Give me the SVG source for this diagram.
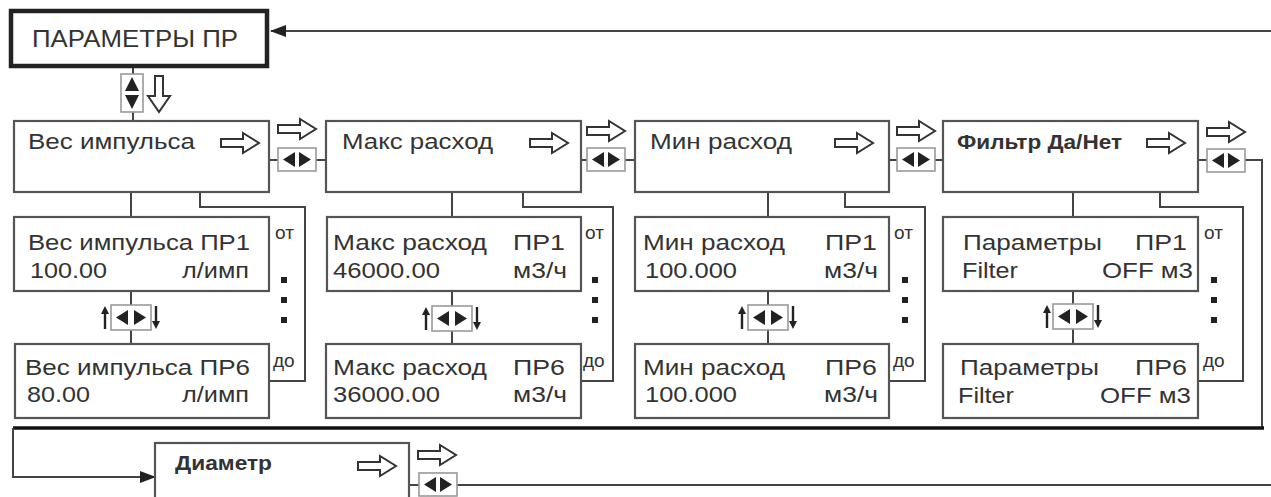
<svg xmlns="http://www.w3.org/2000/svg" xmlns:xlink="http://www.w3.org/1999/xlink" width="1271" height="497" viewBox="0 0 1271 497">
<style>
.box{fill:#fff;stroke:#555;stroke-width:2.2}
.hdr{fill:#fff;stroke:#222;stroke-width:4.5}
.t{font-family:"Liberation Sans",Arial,sans-serif;font-size:22px;fill:#333}
.tb{font-family:"Liberation Sans",Arial,sans-serif;font-size:21px;font-weight:bold;fill:#333}
.r{text-anchor:end}
.s{font-family:"Liberation Sans",Arial,sans-serif;font-size:19px;fill:#333}
.ln{fill:none;stroke:#444;stroke-width:2}
.thick{fill:none;stroke:#111;stroke-width:3.5}
.ha{fill:#fff;stroke:#333;stroke-width:2;stroke-linejoin:miter}
.ib{fill:#fff;stroke:#999;stroke-width:1.6}
.tri{fill:#222}
.dot{fill:#222}
</style>
<defs>
<g id="harr"><path class="ha" d="M0,-4 H22 V-10 L38,0 L22,10 V4 H0 Z"/></g>
<g id="lr"><rect class="ib" x="0" y="0" width="38" height="23"/><polygon class="tri" points="5,11.5 17,4 17,19"/><polygon class="tri" points="33,11.5 21,4 21,19"/></g>
<g id="vicon"><rect class="ib" x="-20" y="0" width="40" height="25"/><polygon class="tri" points="-15,12.5 -3,5 -3,20"/><polygon class="tri" points="15,12.5 3,5 3,20"/>
<line x1="-26" y1="24" x2="-26" y2="6" stroke="#222" stroke-width="2.4"/><polygon class="tri" points="-26,1 -30,9 -22,9"/>
<line x1="25" y1="1" x2="25" y2="19" stroke="#222" stroke-width="2.4"/><polygon class="tri" points="25,24 21,16 29,16"/></g>
<marker id="ah" markerWidth="16" markerHeight="12" refX="15" refY="6" orient="auto" markerUnits="userSpaceOnUse"><polygon points="0,0 16,6 0,12" fill="#222"/></marker>
</defs>

<g id="connectors">
<line class="ln" x1="1271" y1="31" x2="271" y2="31" stroke="#777" marker-end="url(#ah)"/>
<line class="ln" x1="133" y1="67" x2="133" y2="121"/>
<line class="ln" x1="269" y1="160" x2="326" y2="160"/>
<line class="ln" x1="581" y1="160" x2="635" y2="160"/>
<line class="ln" x1="889" y1="160" x2="943" y2="160"/>
<polyline class="ln" points="1198,160 1262,160 1262,428"/>
<line class="ln" x1="131" y1="192" x2="131" y2="344"/>
<line class="ln" x1="452" y1="192" x2="452" y2="344"/>
<line class="ln" x1="768" y1="192" x2="768" y2="344"/>
<line class="ln" x1="1073" y1="192" x2="1073" y2="344"/>
<polyline class="ln" points="200,192 200,207 305,207 305,381 269,381"/>
<polyline class="ln" points="523,192 523,207 613,207 613,381 581,381"/>
<polyline class="ln" points="845,192 845,207 925,207 925,381 889,381"/>
<polyline class="ln" points="1160,192 1160,207 1243,207 1243,381 1198,381"/>
<line class="thick" x1="13" y1="428" x2="1264" y2="428"/>
<polyline class="ln" points="13,428 13,477 155,477" marker-end="url(#ah)"/>
<line class="ln" x1="409" y1="485" x2="1271" y2="485"/>
<rect class="ib" x="121" y="74" width="22" height="38"/>
<polygon class="tri" points="132,77 125,91 139,91"/>
<polygon class="tri" points="132,109 125,95 139,95"/>
<path class="ha" d="M155,76 H163 V96 H170 L159,112 L148,96 H155 Z"/>
<use xlink:href="#harr" x="278" y="129"/><use xlink:href="#lr" x="278" y="148"/>
<use xlink:href="#harr" x="587" y="131"/><use xlink:href="#lr" x="587" y="148"/>
<use xlink:href="#harr" x="897" y="131"/><use xlink:href="#lr" x="897" y="148"/>
<use xlink:href="#harr" x="1207" y="132"/><use xlink:href="#lr" x="1207" y="149"/>
<use xlink:href="#harr" x="418" y="455"/><use xlink:href="#lr" x="419" y="473"/>
<use xlink:href="#vicon" x="131" y="305"/>
<use xlink:href="#vicon" x="452" y="306"/>
<use xlink:href="#vicon" x="768" y="305"/>
<use xlink:href="#vicon" x="1073" y="304"/>
</g>

<g id="header">
<rect class="hdr" x="11" y="11" width="256" height="55"/>
<text class="t" x="32" y="47" style="font-size:23px" textLength="206" lengthAdjust="spacingAndGlyphs">ПАРАМЕТРЫ ПР</text>
</g>

<g id="ves">
<rect class="box" x="14" y="121" width="255" height="71"/>
<text class="t" x="28" y="149" textLength="167" lengthAdjust="spacingAndGlyphs">Вес импульса</text>
<use xlink:href="#harr" x="221" y="143"/>
</g>
<g id="ves1">
<rect class="box" x="14" y="217" width="255" height="74"/>
<text class="t" x="28" y="250" textLength="222" lengthAdjust="spacingAndGlyphs">Вес импульса ПР1</text>
<text class="t" x="30" y="278" textLength="77" lengthAdjust="spacingAndGlyphs">100.00</text>
<text class="t" x="182" y="278" textLength="67" lengthAdjust="spacingAndGlyphs">л/имп</text>
</g>
<g id="ves6">
<rect class="box" x="15" y="344" width="254" height="74"/>
<text class="t" x="25" y="375" textLength="225" lengthAdjust="spacingAndGlyphs">Вес импульса ПР6</text>
<text class="t" x="27" y="402" textLength="63" lengthAdjust="spacingAndGlyphs">80.00</text>
<text class="t" x="182" y="402" textLength="67" lengthAdjust="spacingAndGlyphs">л/имп</text>
</g>
<g id="ves-range">
<text class="s" x="275" y="239">от</text>
<text class="s" x="273" y="367">до</text>
<rect class="dot" x="281" y="277" width="6" height="6"/><rect class="dot" x="281" y="297" width="6" height="6"/><rect class="dot" x="281" y="317" width="6" height="6"/>
</g>

<g id="maks">
<rect class="box" x="326" y="121" width="255" height="71"/>
<text class="t" x="342" y="149" textLength="151" lengthAdjust="spacingAndGlyphs">Макс расход</text>
<use xlink:href="#harr" x="530" y="143"/>
</g>
<g id="maks1">
<rect class="box" x="327" y="217" width="254" height="74"/>
<text class="t" x="333" y="250" textLength="154" lengthAdjust="spacingAndGlyphs">Макс расход</text>
<text class="t" x="513" y="250" textLength="52" lengthAdjust="spacingAndGlyphs">ПР1</text>
<text class="t" x="333" y="278" textLength="107" lengthAdjust="spacingAndGlyphs">46000.00</text>
<text class="t" x="513" y="278" textLength="54" lengthAdjust="spacingAndGlyphs">м3/ч</text>
</g>
<g id="maks6">
<rect class="box" x="326" y="344" width="255" height="74"/>
<text class="t" x="333" y="375" textLength="154" lengthAdjust="spacingAndGlyphs">Макс расход</text>
<text class="t" x="513" y="375" textLength="52" lengthAdjust="spacingAndGlyphs">ПР6</text>
<text class="t" x="333" y="402" textLength="107" lengthAdjust="spacingAndGlyphs">36000.00</text>
<text class="t" x="513" y="402" textLength="54" lengthAdjust="spacingAndGlyphs">м3/ч</text>
</g>
<g id="maks-range">
<text class="s" x="585" y="239">от</text>
<text class="s" x="583" y="367">до</text>
<rect class="dot" x="592" y="277" width="6" height="6"/><rect class="dot" x="592" y="297" width="6" height="6"/><rect class="dot" x="592" y="317" width="6" height="6"/>
</g>

<g id="min">
<rect class="box" x="635" y="121" width="254" height="71"/>
<text class="t" x="650" y="149" textLength="142" lengthAdjust="spacingAndGlyphs">Мин расход</text>
<use xlink:href="#harr" x="835" y="143"/>
</g>
<g id="min1">
<rect class="box" x="635" y="217" width="254" height="74"/>
<text class="t" x="643" y="250" textLength="142" lengthAdjust="spacingAndGlyphs">Мин расход</text>
<text class="t" x="825" y="250" textLength="52" lengthAdjust="spacingAndGlyphs">ПР1</text>
<text class="t" x="645" y="278" textLength="92" lengthAdjust="spacingAndGlyphs">100.000</text>
<text class="t" x="824" y="278" textLength="54" lengthAdjust="spacingAndGlyphs">м3/ч</text>
</g>
<g id="min6">
<rect class="box" x="635" y="344" width="254" height="74"/>
<text class="t" x="643" y="375" textLength="142" lengthAdjust="spacingAndGlyphs">Мин расход</text>
<text class="t" x="825" y="375" textLength="52" lengthAdjust="spacingAndGlyphs">ПР6</text>
<text class="t" x="645" y="402" textLength="92" lengthAdjust="spacingAndGlyphs">100.000</text>
<text class="t" x="824" y="402" textLength="54" lengthAdjust="spacingAndGlyphs">м3/ч</text>
</g>
<g id="min-range">
<text class="s" x="894" y="239">от</text>
<text class="s" x="893" y="367">до</text>
<rect class="dot" x="902" y="277" width="6" height="6"/><rect class="dot" x="902" y="297" width="6" height="6"/><rect class="dot" x="902" y="317" width="6" height="6"/>
</g>

<g id="filtr">
<rect class="box" x="943" y="121" width="255" height="71"/>
<text class="tb" x="957" y="149" textLength="165" lengthAdjust="spacingAndGlyphs">Фильтр Да/Нет</text>
<use xlink:href="#harr" x="1147" y="143"/>
</g>
<g id="filtr1">
<rect class="box" x="943" y="217" width="255" height="74"/>
<text class="t" x="963" y="250" textLength="139" lengthAdjust="spacingAndGlyphs">Параметры</text>
<text class="t" x="1135" y="250" textLength="52" lengthAdjust="spacingAndGlyphs">ПР1</text>
<text class="t" x="962" y="278" textLength="56" lengthAdjust="spacingAndGlyphs">Filter</text>
<text class="t" x="1102" y="278" textLength="91" lengthAdjust="spacingAndGlyphs">OFF м3</text>
</g>
<g id="filtr6">
<rect class="box" x="943" y="344" width="255" height="74"/>
<text class="t" x="960" y="375" textLength="139" lengthAdjust="spacingAndGlyphs">Параметры</text>
<text class="t" x="1135" y="375" textLength="52" lengthAdjust="spacingAndGlyphs">ПР6</text>
<text class="t" x="958" y="403" textLength="56" lengthAdjust="spacingAndGlyphs">Filter</text>
<text class="t" x="1100" y="403" textLength="91" lengthAdjust="spacingAndGlyphs">OFF м3</text>
</g>
<g id="filtr-range">
<text class="s" x="1204" y="239">от</text>
<text class="s" x="1203" y="367">до</text>
<rect class="dot" x="1211" y="277" width="6" height="6"/><rect class="dot" x="1211" y="297" width="6" height="6"/><rect class="dot" x="1211" y="317" width="6" height="6"/>
</g>

<g id="diametr">
<rect class="box" x="155" y="443" width="254" height="80"/>
<text class="tb" x="175" y="470" textLength="97" lengthAdjust="spacingAndGlyphs">Диаметр</text>
<use xlink:href="#harr" x="358" y="466"/>
</g>
</svg>
